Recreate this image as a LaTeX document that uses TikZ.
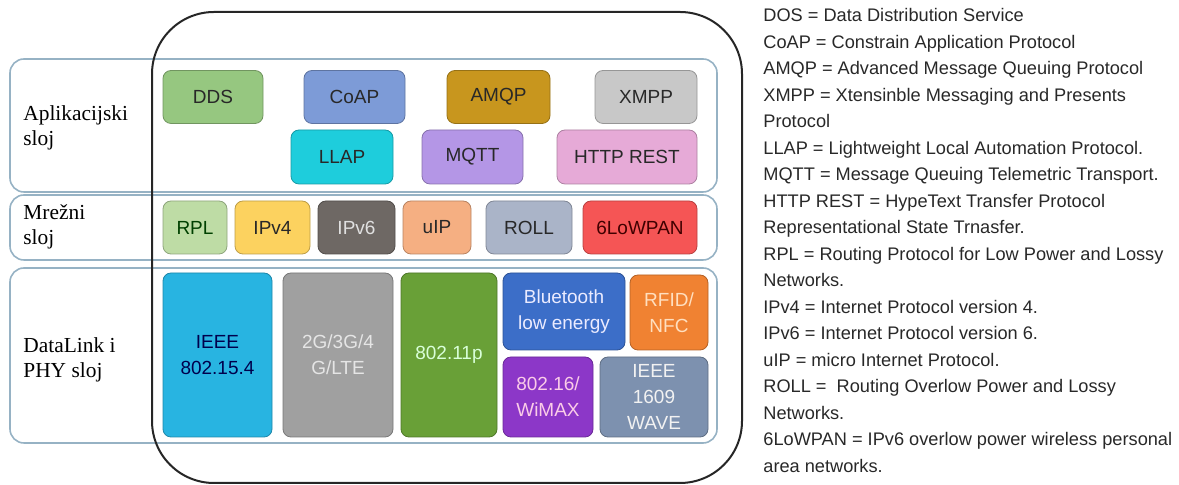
\documentclass[tikz,border=0pt]{standalone}
\usepackage{fontspec}
\setmainfont{Liberation Sans}
\newfontfamily\layerfont{Liberation Serif}
\usepackage{tikz}
\definecolor{bandline}{RGB}{150,178,196}
\definecolor{darktext}{RGB}{40,40,40}
\definecolor{ddsc}{RGB}{150,199,128}
\definecolor{coapc}{RGB}{125,155,215}
\definecolor{amqpc}{RGB}{200,150,30}
\definecolor{xmppc}{RGB}{200,200,200}
\definecolor{llapc}{RGB}{30,205,220}
\definecolor{mqttc}{RGB}{180,150,230}
\definecolor{httpc}{RGB}{230,170,215}
\definecolor{rplc}{RGB}{190,220,165}
\definecolor{ipvfourc}{RGB}{252,210,95}
\definecolor{ipvsixc}{RGB}{110,104,100}
\definecolor{uipc}{RGB}{245,175,130}
\definecolor{rollc}{RGB}{170,180,200}
\definecolor{lowpanc}{RGB}{245,85,85}
\definecolor{ieeec}{RGB}{40,180,225}
\definecolor{cellc}{RGB}{160,160,160}
\definecolor{wific}{RGB}{105,160,55}
\definecolor{btc}{RGB}{60,110,200}
\definecolor{rfidc}{RGB}{240,130,50}
\definecolor{wimaxc}{RGB}{140,55,200}
\definecolor{wavec}{RGB}{125,145,175}
\tikzset{layer/.style={draw=bandline, line width=0.8pt, rounded corners=7pt},
    proto/.style={draw=#1!75!black, fill=#1, rounded corners=4pt,
        line width=0.4pt, inner sep=0pt, align=center, text=darktext,
        font=\fontsize{9.5}{13}\selectfont},
    layername/.style={anchor=west, align=left, inner sep=0pt,
        font=\layerfont\fontsize{10.7}{12.5}\selectfont},
    outerline/.style={draw=black!85, line width=1pt, rounded corners=31pt},
    legend/.style={anchor=north west, align=left, inner sep=0pt,
        text=darktext, font=\fontsize{9.1}{13.25}\selectfont}}

\begin{document}
\begin{tikzpicture}[x=0.5pt, y=-0.5pt]
    \useasboundingbox (0,0) rectangle (1179,485);
    % layers
    \draw[layer] (10,59) rectangle (717,192);
    \draw[layer] (10,195) rectangle (717,260);
    \draw[layer] (10,268) rectangle (717,443);
    \node[layername] (app) at (23,128) {Aplikacijski\\sloj};
    \node[layername] (net) at (23,227) {Mrežni\\sloj};
    \node[layername] (phy) at (23,360) {DataLink i\\PHY sloj};
    % application layer
    \node[proto=ddsc, minimum width=50pt, minimum height=26.5pt] (dds) at (213,97) {DDS};
    \node[proto=coapc, minimum width=50.5pt, minimum height=26.5pt] (coap) at (354.5,97) {CoAP};
    \node[proto=amqpc, minimum width=51.5pt, minimum height=26.5pt] (amqp) at (498.5,97) {AMQP};
    \node[proto=xmppc, minimum width=51pt, minimum height=26.5pt] (xmpp) at (646,97) {XMPP};
    \node[proto=llapc, minimum width=51pt, minimum height=27pt] (llap) at (342,157) {LLAP};
    \node[proto=mqttc, minimum width=50.5pt, minimum height=27pt] (mqtt) at (472.5,157) {MQTT};
    \node[proto=httpc, minimum width=70pt, minimum height=27pt] (http) at (627,157) {HTTP REST};
    % network layer
    \node[proto=rplc, text=green!25!black, minimum width=32pt, minimum height=26.5pt] (rpl) at (195,227.5) {RPL};
    \node[proto=ipvfourc, minimum width=37.5pt, minimum height=26.5pt] (ipv4) at (272.5,227.5) {IPv4};
    \node[proto=ipvsixc, text=black!12, minimum width=38.5pt, minimum height=26.5pt] (ipv6) at (356.5,227.5) {IPv6};
    \node[proto=uipc, minimum width=34pt, minimum height=26.5pt] (uip) at (437,227.5) {uIP};
    \node[proto=rollc, minimum width=43pt, minimum height=26.5pt] (roll) at (529,227.5) {ROLL};
    \node[proto=lowpanc, text=black!75!red, minimum width=57pt, minimum height=26.5pt] (lowpan) at (640,227.5) {6LoWPAN};
    % datalink and phy layer
    \node[proto=ieeec, text=blue!30!black, minimum width=54.5pt, minimum height=82pt] (ieee) at (217.5,355) {IEEE\\802.15.4};
    \node[proto=cellc, text=black!10, minimum width=55pt, minimum height=82pt] (cell) at (338,355) {2G/3G/4\\G/LTE};
    \node[proto=wific, text=green!15!white, minimum width=48pt, minimum height=82pt] (wifi) at (449,355) {802.11p};
    \node[proto=btc, text=blue!8!white, minimum width=61pt, minimum height=38.5pt] (bt) at (564,311.5) {Bluetooth\\low energy};
    \node[proto=rfidc, text=orange!25!white, minimum width=39pt, minimum height=37.5pt] (rfid) at (669,312.5) {RFID/\\NFC};
    \node[proto=wimaxc, text=magenta!20!white, minimum width=45pt, minimum height=40pt] (wimax) at (548,397) {802.16/\\WiMAX};
    \node[proto=wavec, text=black!5, minimum width=54pt, minimum height=40pt] (wave) at (654,397) {IEEE\\1609\\WAVE};
    % outer frame
    \draw[outerline] (152,12) rectangle (742,483);
    % legend
    \node[legend] (abbr) at (763,8) {DOS = Data Distribution Service\\
        CoAP = Constrain Application Protocol\\
        AMQP = Advanced Message Queuing Protocol\\
        XMPP = Xtensinble Messaging and Presents\\
        Protocol\\
        LLAP = Lightweight Local Automation Protocol.\\
        MQTT = Message Queuing Telemetric Transport.\\
        HTTP REST = HypeText Transfer Protocol\\
        Representational State Trnasfer.\\
        RPL = Routing Protocol for Low Power and Lossy\\
        Networks.\\
        IPv4 = Internet Protocol version 4.\\
        IPv6 = Internet Protocol version 6.\\
        uIP = micro Internet Protocol.\\
        ROLL = \ Routing Overlow Power and Lossy\\
        Networks.\\
        6LoWPAN = IPv6 overlow power wireless personal\\
        area networks.};
\end{tikzpicture}
\end{document}
